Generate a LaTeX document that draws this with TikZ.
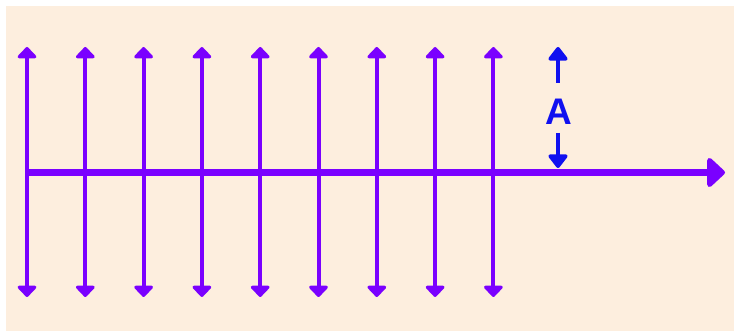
\documentclass[tikz,border=0pt]{standalone}
\usepackage{fontspec}
\setmainfont{Liberation Sans}
\usetikzlibrary{arrows.meta}
\definecolor{peach}{HTML}{FDEEDE}
\definecolor{violet}{HTML}{7A00FF}
\definecolor{ablue}{HTML}{1010F0}
\tikzset{
  vline/.style={draw=violet, line width=4pt, {Triangle[width=22pt,length=12pt,round]}-{Triangle[width=22pt,length=12pt,round]}},
  axis/.style={draw=violet, line width=6.5pt, -{Triangle[width=34pt,length=19pt,round]}},
  ampl/.style={draw=ablue, line width=3.8pt, -{Triangle[width=22pt,length=15pt,round]}},
}
\begin{document}
\begin{tikzpicture}[x=1pt,y={(0,-1pt)}]
\useasboundingbox (0,0) rectangle (734,331);
\fill[white] (0,0) rectangle (734,331);
\fill[peach] (6,6) rectangle (734,331);
\foreach \i in {0,...,8}{
  \pgfmathsetmacro{\xx}{27+58.3*\i}
  \coordinate (t\i) at (\xx,47);
  \coordinate (b\i) at (\xx,297);
  \draw[vline] (b\i) -- (t\i);
}
\coordinate (a0) at (27,172.5);
\coordinate (a1) at (725,172.5);
\draw[axis] (a0) -- (a1);
\node[text=ablue, font=\fontsize{37}{37}\selectfont\bfseries, inner sep=0pt] (A) at (559,112) {A};
\coordinate (u0) at (558,83);
\coordinate (u1) at (558,47);
\coordinate (d0) at (558,133);
\coordinate (d1) at (558,168);
\draw[ampl] (u0) -- (u1);
\draw[ampl] (d0) -- (d1);
\end{tikzpicture}
\end{document}
